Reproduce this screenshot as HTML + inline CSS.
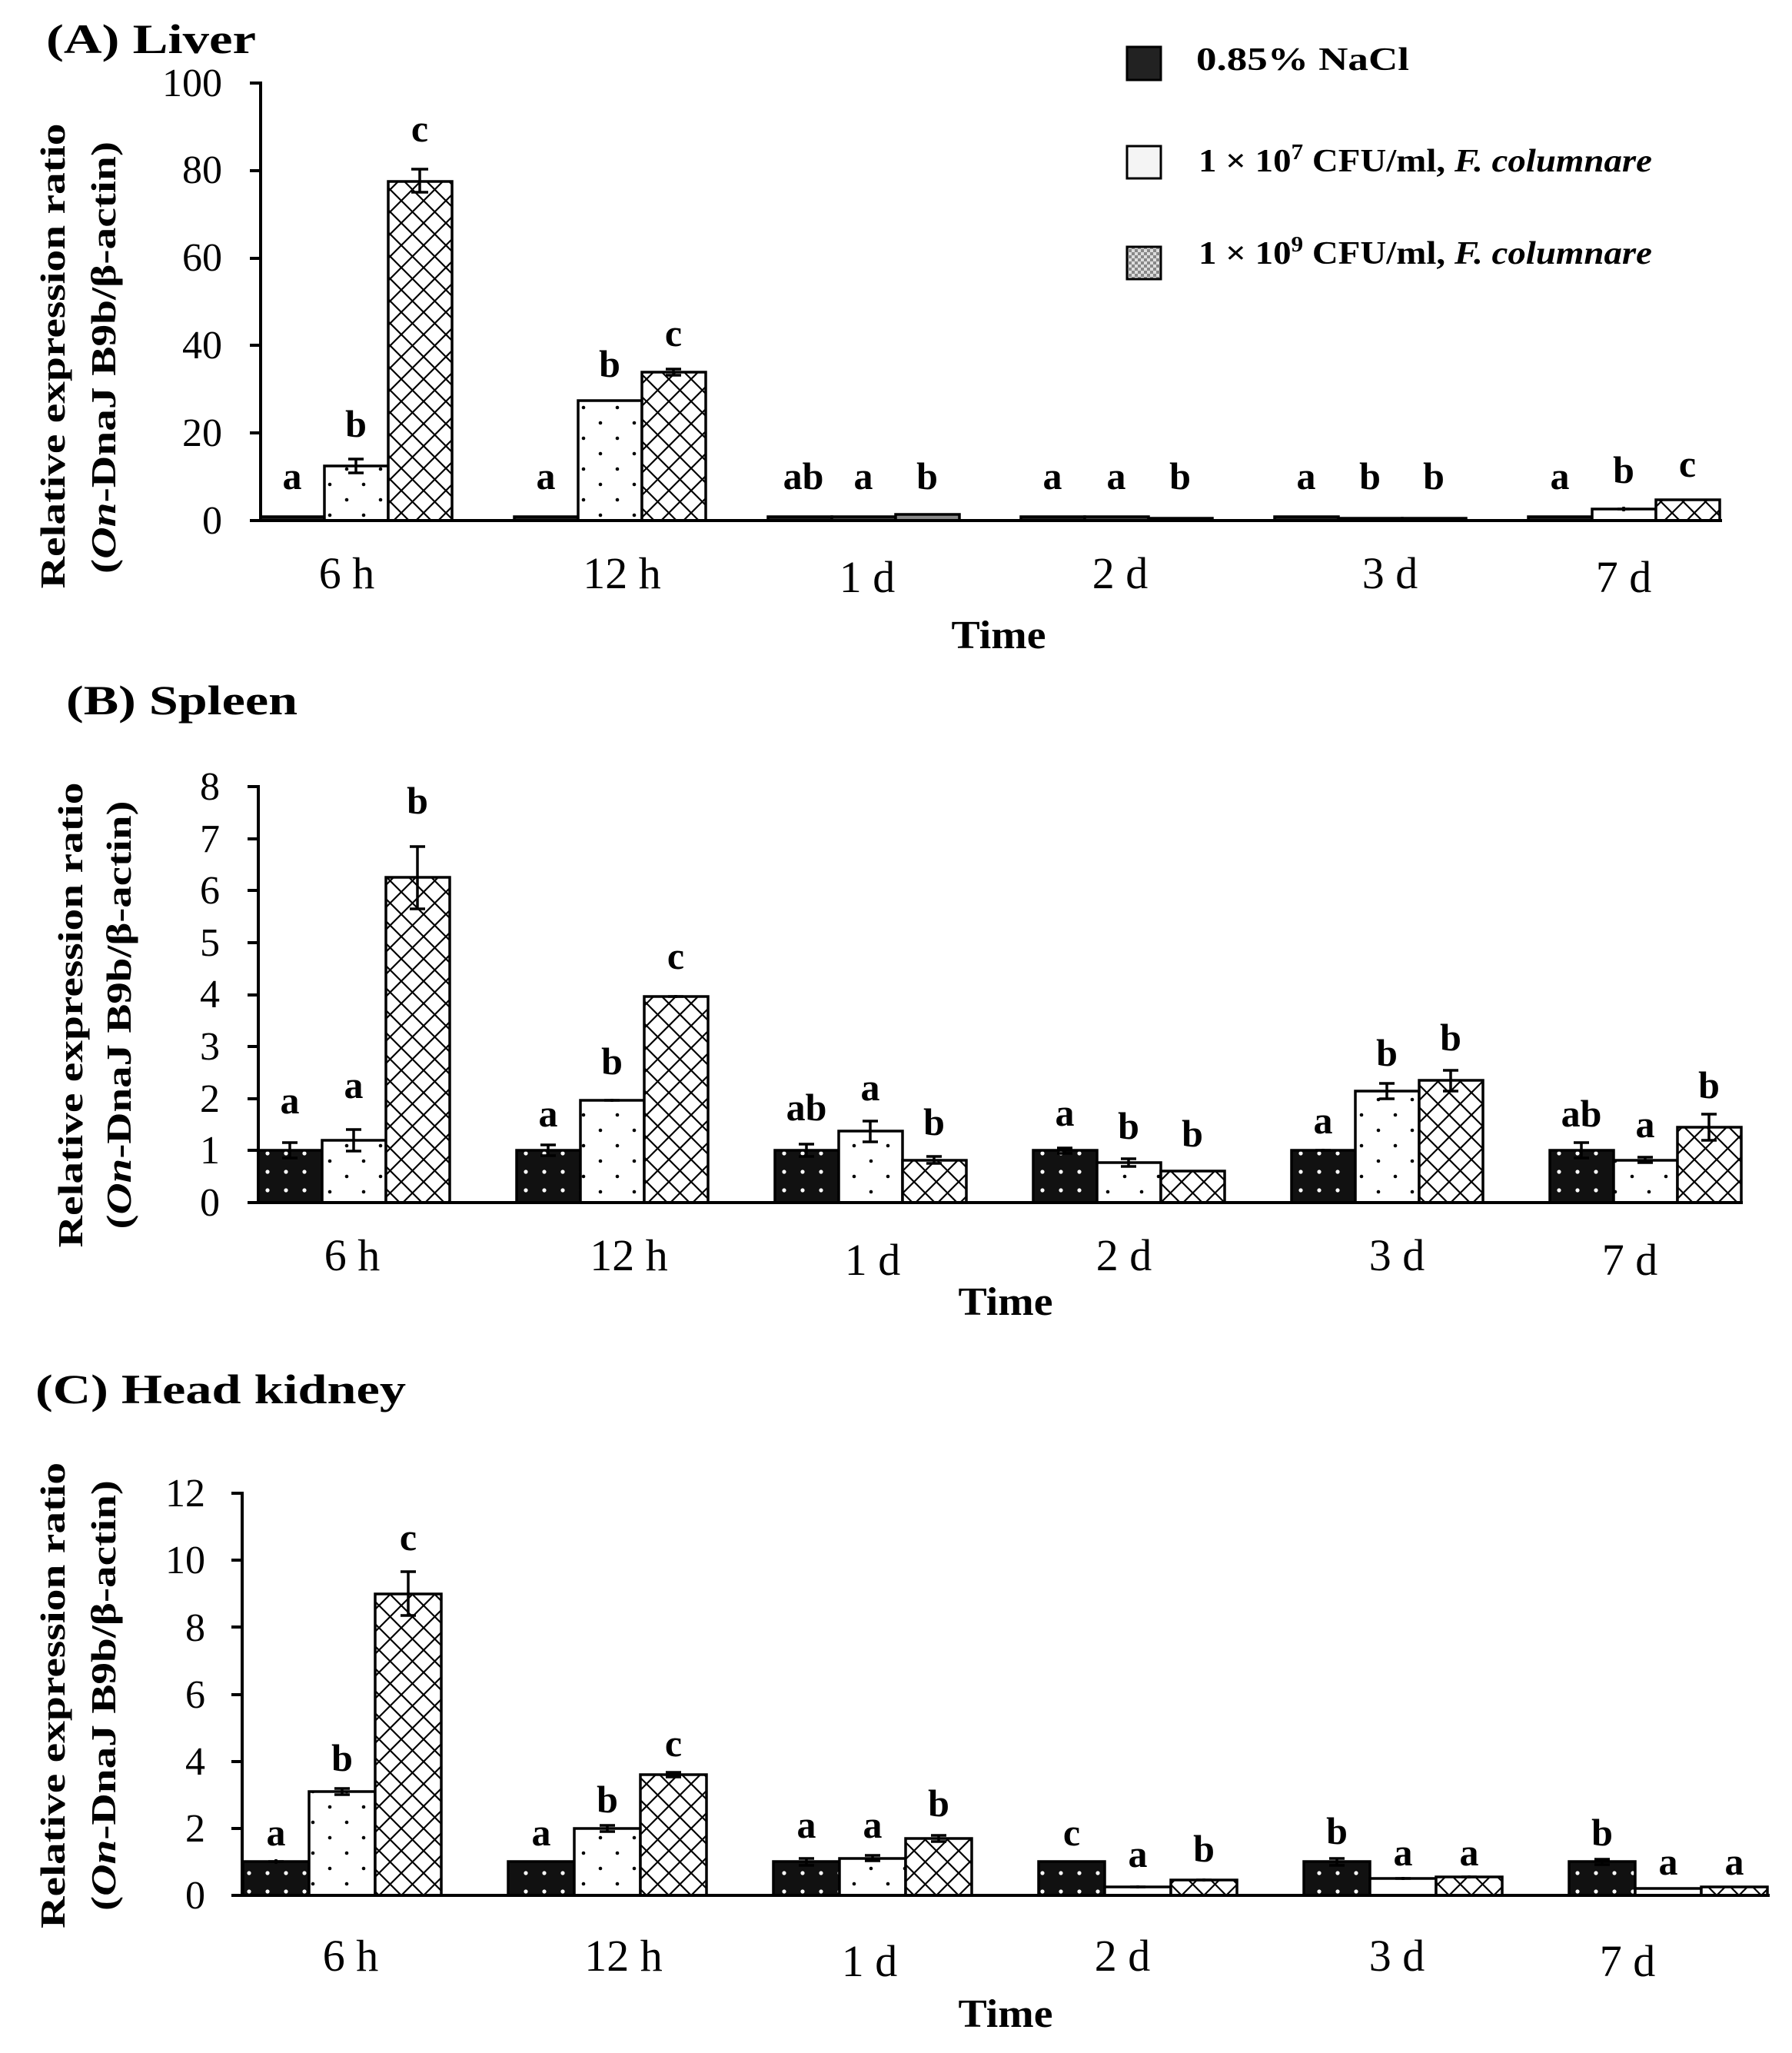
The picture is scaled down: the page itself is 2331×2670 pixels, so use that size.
<!DOCTYPE html>
<html><head><meta charset="utf-8"><style>html,body{margin:0;padding:0;background:#fff}svg{display:block}svg text{font-family:"Liberation Serif","Times New Roman",serif}</style></head>
<body>
<svg width="2331" height="2670" viewBox="0 0 2331 2670" xmlns="http://www.w3.org/2000/svg">
<defs>
<pattern id="pN" width="24" height="24" patternUnits="userSpaceOnUse"><rect width="24" height="24" fill="#111"/><circle cx="12" cy="12" r="2.6" fill="#fff"/></pattern>
<pattern id="pD" width="44" height="40" patternUnits="userSpaceOnUse"><rect width="44" height="40" fill="#fff"/><circle cx="11" cy="10" r="2.3" fill="#000"/><circle cx="33" cy="30" r="2.3" fill="#000"/></pattern>
<pattern id="pX" width="29" height="29" patternUnits="userSpaceOnUse"><rect width="29" height="29" fill="#fff"/><path d="M0 0L29 29M29 0L0 29" stroke="#000" stroke-width="2.2"/></pattern>
<pattern id="pG" width="8" height="8" patternUnits="userSpaceOnUse"><rect width="8" height="8" fill="#ddd"/><rect width="4" height="4" fill="#888"/><rect x="4" y="4" width="4" height="4" fill="#888"/></pattern>
</defs>

<!-- ============ PANEL A ============ -->
<text x="60" y="69" font-size="54" font-weight="bold" textLength="273" lengthAdjust="spacingAndGlyphs">(A) Liver</text>
<g font-weight="bold" font-size="46" text-anchor="middle">
<text transform="translate(84,463) rotate(-90)" textLength="605" lengthAdjust="spacingAndGlyphs">Relative expression ratio</text>
<text transform="translate(150,465) rotate(-90)" textLength="562" lengthAdjust="spacingAndGlyphs">(<tspan font-style="italic">On</tspan>-DnaJ B9b/β-actin)</text>
</g>
<g font-size="52" text-anchor="end">
<text x="289" y="125">100</text><text x="289" y="238">80</text><text x="289" y="352">60</text><text x="289" y="466">40</text><text x="289" y="580">20</text><text x="289" y="694">0</text>
</g>
<g stroke="#000" stroke-width="4">
<line x1="339" y1="106" x2="339" y2="679"/><line x1="325" y1="108" x2="339" y2="108"/><line x1="325" y1="222" x2="339" y2="222"/><line x1="325" y1="336" x2="339" y2="336"/><line x1="325" y1="449" x2="339" y2="449"/><line x1="325" y1="563" x2="339" y2="563"/><line x1="325" y1="677" x2="339" y2="677"/>
</g>
<g stroke="#000" stroke-width="3.5">
<rect x="339" y="672" width="83" height="5" fill="#222"/>
<rect x="422" y="606" width="83" height="71" fill="url(#pD)"/>
<rect x="505" y="236" width="83" height="441" fill="url(#pX)"/>
<rect x="669" y="672" width="83" height="5" fill="#222"/>
<rect x="752" y="521" width="83" height="156" fill="url(#pD)"/>
<rect x="835" y="484" width="83" height="193" fill="url(#pX)"/>
<rect x="999" y="672" width="83" height="5" fill="#222"/>
<rect x="1082" y="672" width="83" height="5" fill="#444"/>
<rect x="1165" y="669" width="83" height="8" fill="#888"/>
<rect x="1328" y="672" width="83" height="5" fill="#222"/>
<rect x="1411" y="672" width="83" height="5" fill="#444"/>
<rect x="1494" y="674" width="83" height="3" fill="#444"/>
<rect x="1658" y="672" width="83" height="5" fill="#222"/>
<rect x="1741" y="674" width="83" height="3" fill="#444"/>
<rect x="1824" y="674" width="83" height="3" fill="#444"/>
<rect x="1988" y="672" width="83" height="5" fill="#222"/>
<rect x="2071" y="662" width="83" height="15" fill="#fff"/>
<rect x="2154" y="650" width="83" height="27" fill="url(#pX)"/>
</g>
<line x1="337" y1="677" x2="2240" y2="677" stroke="#000" stroke-width="4"/>
<g stroke="#000" stroke-width="3.5" fill="none">
<path d="M463 597V615M453 597H473M453 615H473"/>
<path d="M546 220V250M535 220H557M535 250H557"/>
<path d="M876 480V488M866 480H886M866 488H886"/>
<path d="M2112 659V665M2104 662H2120"/>
</g>
<g font-size="50" font-weight="bold" text-anchor="middle">
<text x="380" y="636">a</text><text x="463" y="568">b</text><text x="546" y="184">c</text>
<text x="710" y="636">a</text><text x="793" y="490">b</text><text x="876" y="450">c</text>
<text x="1045" y="636">ab</text><text x="1123" y="636">a</text><text x="1206" y="636">b</text>
<text x="1369" y="636">a</text><text x="1452" y="636">a</text><text x="1535" y="636">b</text>
<text x="1699" y="636">a</text><text x="1782" y="636">b</text><text x="1865" y="636">b</text>
<text x="2029" y="636">a</text><text x="2112" y="628">b</text><text x="2195" y="620">c</text>
</g>
<g font-size="58" text-anchor="middle">
<text x="451" y="765">6 h</text><text x="809" y="765">12 h</text><text x="1128" y="770">1 d</text><text x="1457" y="765">2 d</text><text x="1808" y="765">3 d</text><text x="2112" y="770">7 d</text>
</g>
<text x="1299" y="843" font-size="52" font-weight="bold" text-anchor="middle" textLength="123" lengthAdjust="spacingAndGlyphs">Time</text>

<!-- Legend -->
<rect x="1466" y="61" width="44" height="43" fill="#222" stroke="#000" stroke-width="3"/>
<rect x="1466" y="190" width="44" height="42" fill="#f4f4f4" stroke="#000" stroke-width="3"/>
<rect x="1466" y="321" width="44" height="42" fill="url(#pG)" stroke="#000" stroke-width="3"/>
<g font-size="42" font-weight="bold">
<text x="1556" y="91" textLength="277" lengthAdjust="spacingAndGlyphs">0.85% NaCl</text>
<text x="1559" y="223" textLength="590" lengthAdjust="spacingAndGlyphs">1 × 10<tspan font-size="28" dy="-16">7</tspan><tspan dy="16"> CFU/ml, </tspan><tspan font-style="italic">F. columnare</tspan></text>
<text x="1559" y="343" textLength="590" lengthAdjust="spacingAndGlyphs">1 × 10<tspan font-size="28" dy="-16">9</tspan><tspan dy="16"> CFU/ml, </tspan><tspan font-style="italic">F. columnare</tspan></text>
</g>

<!-- ============ PANEL B ============ -->
<text x="86" y="929" font-size="54" font-weight="bold" textLength="301" lengthAdjust="spacingAndGlyphs">(B) Spleen</text>
<g font-weight="bold" font-size="46" text-anchor="middle">
<text transform="translate(107,1320) rotate(-90)" textLength="605" lengthAdjust="spacingAndGlyphs">Relative expression ratio</text>
<text transform="translate(170,1320) rotate(-90)" textLength="557" lengthAdjust="spacingAndGlyphs">(<tspan font-style="italic">On</tspan>-DnaJ B9b/β-actin)</text>
</g>
<g font-size="52" text-anchor="end">
<text x="286" y="1040">8</text><text x="286" y="1108">7</text><text x="286" y="1175">6</text><text x="286" y="1243">5</text><text x="286" y="1310">4</text><text x="286" y="1378">3</text><text x="286" y="1446">2</text><text x="286" y="1513">1</text><text x="286" y="1581">0</text>
</g>
<g stroke="#000" stroke-width="4">
<line x1="336" y1="1021" x2="336" y2="1566"/>
<line x1="322" y1="1023" x2="336" y2="1023"/><line x1="322" y1="1091" x2="336" y2="1091"/><line x1="322" y1="1158" x2="336" y2="1158"/><line x1="322" y1="1226" x2="336" y2="1226"/><line x1="322" y1="1294" x2="336" y2="1294"/><line x1="322" y1="1361" x2="336" y2="1361"/><line x1="322" y1="1429" x2="336" y2="1429"/><line x1="322" y1="1496" x2="336" y2="1496"/><line x1="322" y1="1564" x2="336" y2="1564"/>
</g>
<g stroke="#000" stroke-width="3.5">
<rect x="336" y="1496" width="83" height="68" fill="url(#pN)"/>
<rect x="419" y="1483" width="83" height="81" fill="url(#pD)"/>
<rect x="502" y="1141" width="83" height="423" fill="url(#pX)"/>
<rect x="672" y="1496" width="83" height="68" fill="url(#pN)"/>
<rect x="755" y="1431" width="83" height="133" fill="url(#pD)"/>
<rect x="838" y="1296" width="83" height="268" fill="url(#pX)"/>
<rect x="1008" y="1496" width="83" height="68" fill="url(#pN)"/>
<rect x="1091" y="1471" width="83" height="93" fill="url(#pD)"/>
<rect x="1174" y="1509" width="83" height="55" fill="url(#pX)"/>
<rect x="1344" y="1496" width="83" height="68" fill="url(#pN)"/>
<rect x="1427" y="1512" width="83" height="52" fill="url(#pD)"/>
<rect x="1510" y="1523" width="83" height="41" fill="url(#pX)"/>
<rect x="1680" y="1496" width="83" height="68" fill="url(#pN)"/>
<rect x="1763" y="1419" width="83" height="145" fill="url(#pD)"/>
<rect x="1846" y="1405" width="83" height="159" fill="url(#pX)"/>
<rect x="2016" y="1496" width="83" height="68" fill="url(#pN)"/>
<rect x="2099" y="1509" width="83" height="55" fill="url(#pD)"/>
<rect x="2182" y="1466" width="83" height="98" fill="url(#pX)"/>
</g>
<line x1="334" y1="1564" x2="2267" y2="1564" stroke="#000" stroke-width="4"/>
<g stroke="#000" stroke-width="3.5" fill="none">
<path d="M377 1486V1506M367 1486H387M367 1506H387"/>
<path d="M460 1469V1497M450 1469H470M450 1497H470"/>
<path d="M543 1101V1182M533 1101H553M533 1182H553"/>
<path d="M713 1489V1503M703 1489H723M703 1503H723"/>
<path d="M796 1429V1433M786 1431H806"/>
<path d="M879 1294V1298M869 1296H889"/>
<path d="M1049 1488V1504M1039 1488H1059M1039 1504H1059"/>
<path d="M1132 1458V1485M1122 1458H1142M1122 1485H1142"/>
<path d="M1215 1504V1513M1205 1504H1225M1205 1513H1225"/>
<path d="M1385 1493V1500M1375 1493H1395M1375 1500H1395"/>
<path d="M1468 1507V1517M1458 1507H1478M1458 1517H1478"/>
<path d="M1721 1494V1498M1711 1496H1731"/>
<path d="M1804 1409V1429M1794 1409H1814M1794 1429H1814"/>
<path d="M1887 1392V1419M1877 1392H1897M1877 1419H1897"/>
<path d="M2057 1486V1506M2047 1486H2067M2047 1506H2067"/>
<path d="M2140 1505V1512M2130 1505H2150M2130 1512H2150"/>
<path d="M2223 1449V1483M2213 1449H2233M2213 1483H2233"/>
</g>
<g font-size="50" font-weight="bold" text-anchor="middle">
<text x="377" y="1448">a</text><text x="460" y="1428">a</text><text x="543" y="1058">b</text>
<text x="713" y="1465">a</text><text x="796" y="1397">b</text><text x="879" y="1260">c</text>
<text x="1049" y="1457">ab</text><text x="1132" y="1431">a</text><text x="1215" y="1476">b</text>
<text x="1385" y="1464">a</text><text x="1468" y="1481">b</text><text x="1551" y="1491">b</text>
<text x="1721" y="1474">a</text><text x="1804" y="1386">b</text><text x="1887" y="1366">b</text>
<text x="2057" y="1465">ab</text><text x="2140" y="1479">a</text><text x="2223" y="1428">b</text>
</g>
<g font-size="58" text-anchor="middle">
<text x="458" y="1652">6 h</text><text x="818" y="1652">12 h</text><text x="1135" y="1658">1 d</text><text x="1462" y="1652">2 d</text><text x="1817" y="1652">3 d</text><text x="2120" y="1658">7 d</text>
</g>
<text x="1308" y="1710" font-size="52" font-weight="bold" text-anchor="middle" textLength="123" lengthAdjust="spacingAndGlyphs">Time</text>

<!-- ============ PANEL C ============ -->
<text x="46" y="1825" font-size="54" font-weight="bold" textLength="482" lengthAdjust="spacingAndGlyphs">(C) Head kidney</text>
<g font-weight="bold" font-size="46" text-anchor="middle">
<text transform="translate(84,2205) rotate(-90)" textLength="606" lengthAdjust="spacingAndGlyphs">Relative expression ratio</text>
<text transform="translate(150,2205) rotate(-90)" textLength="560" lengthAdjust="spacingAndGlyphs">(<tspan font-style="italic">On</tspan>-DnaJ B9b/β-actin)</text>
</g>
<g font-size="52" text-anchor="end">
<text x="267" y="1959">12</text><text x="267" y="2046">10</text><text x="267" y="2134">8</text><text x="267" y="2221">6</text><text x="267" y="2308">4</text><text x="267" y="2395">2</text><text x="267" y="2482">0</text>
</g>
<g stroke="#000" stroke-width="4">
<line x1="315" y1="1940" x2="315" y2="2467"/>
<line x1="301" y1="1942" x2="315" y2="1942"/><line x1="301" y1="2029" x2="315" y2="2029"/><line x1="301" y1="2116" x2="315" y2="2116"/><line x1="301" y1="2204" x2="315" y2="2204"/><line x1="301" y1="2291" x2="315" y2="2291"/><line x1="301" y1="2378" x2="315" y2="2378"/><line x1="301" y1="2465" x2="315" y2="2465"/>
</g>
<g stroke="#000" stroke-width="3.5">
<rect x="316" y="2421" width="86" height="44" fill="url(#pN)"/>
<rect x="402" y="2330" width="86" height="135" fill="url(#pD)"/>
<rect x="488" y="2073" width="86" height="392" fill="url(#pX)"/>
<rect x="661" y="2421" width="86" height="44" fill="url(#pN)"/>
<rect x="747" y="2378" width="86" height="87" fill="url(#pD)"/>
<rect x="833" y="2308" width="86" height="157" fill="url(#pX)"/>
<rect x="1006" y="2421" width="86" height="44" fill="url(#pN)"/>
<rect x="1092" y="2417" width="86" height="48" fill="url(#pD)"/>
<rect x="1178" y="2391" width="86" height="74" fill="url(#pX)"/>
<rect x="1351" y="2421" width="86" height="44" fill="url(#pN)"/>
<rect x="1437" y="2454" width="86" height="11" fill="#fff"/>
<rect x="1523" y="2445" width="86" height="20" fill="url(#pX)"/>
<rect x="1696" y="2421" width="86" height="44" fill="url(#pN)"/>
<rect x="1782" y="2443" width="86" height="22" fill="#fff"/>
<rect x="1868" y="2441" width="86" height="24" fill="url(#pX)"/>
<rect x="2041" y="2421" width="86" height="44" fill="url(#pN)"/>
<rect x="2127" y="2456" width="86" height="9" fill="#fff"/>
<rect x="2213" y="2454" width="86" height="11" fill="url(#pX)"/>
</g>
<line x1="313" y1="2465" x2="2302" y2="2465" stroke="#000" stroke-width="4"/>
<g stroke="#000" stroke-width="3.5" fill="none">
<path d="M359 2418V2424M349 2421H369"/>
<path d="M445 2326V2334M435 2326H455M435 2334H455"/>
<path d="M531 2044V2101M521 2044H541M521 2101H541"/>
<path d="M790 2374V2382M780 2374H800M780 2382H800"/>
<path d="M876 2305V2311M866 2305H886M866 2311H886"/>
<path d="M1049 2417V2426M1039 2417H1059M1039 2426H1059"/>
<path d="M1135 2413V2420M1125 2413H1145M1125 2420H1145"/>
<path d="M1221 2387V2395M1211 2387H1231M1211 2395H1231"/>
<path d="M1480 2452V2456M1470 2454H1490"/>
<path d="M1566 2443V2447M1556 2445H1576"/>
<path d="M1739 2417V2426M1729 2417H1749M1729 2426H1749"/>
<path d="M1825 2441V2445M1815 2443H1835"/>
<path d="M1911 2439V2443M1901 2441H1921"/>
<path d="M2084 2418V2425M2074 2418H2094M2074 2425H2094"/>
</g>
<g font-size="50" font-weight="bold" text-anchor="middle">
<text x="359" y="2400">a</text><text x="445" y="2303">b</text><text x="531" y="2016">c</text>
<text x="704" y="2400">a</text><text x="790" y="2357">b</text><text x="876" y="2284">c</text>
<text x="1049" y="2390">a</text><text x="1135" y="2390">a</text><text x="1221" y="2362">b</text>
<text x="1394" y="2400">c</text><text x="1480" y="2428">a</text><text x="1566" y="2421">b</text>
<text x="1739" y="2398">b</text><text x="1825" y="2426">a</text><text x="1911" y="2426">a</text>
<text x="2084" y="2400">b</text><text x="2170" y="2438">a</text><text x="2256" y="2438">a</text>
</g>
<g font-size="58" text-anchor="middle">
<text x="456" y="2563">6 h</text><text x="811" y="2563">12 h</text><text x="1131" y="2570">1 d</text><text x="1460" y="2563">2 d</text><text x="1817" y="2563">3 d</text><text x="2117" y="2570">7 d</text>
</g>
<text x="1308" y="2636" font-size="52" font-weight="bold" text-anchor="middle" textLength="123" lengthAdjust="spacingAndGlyphs">Time</text>
</svg>
</body></html>
